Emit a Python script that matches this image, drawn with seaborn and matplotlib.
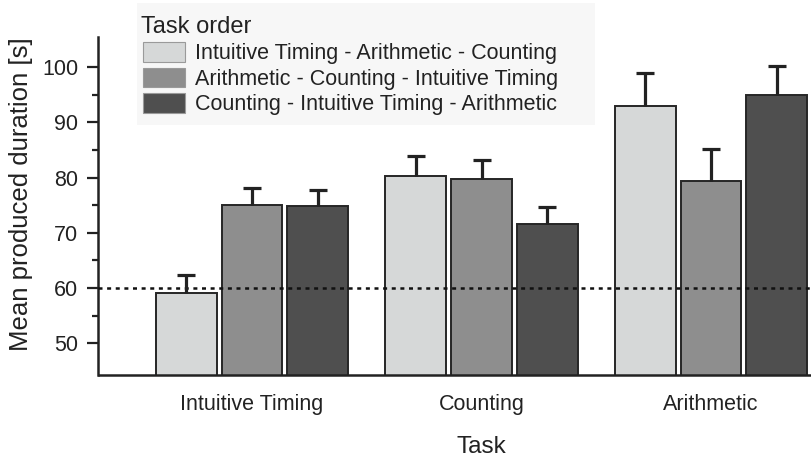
import matplotlib
matplotlib.use("Agg")
import matplotlib.pyplot as plt
from matplotlib.patches import Patch, Rectangle
from matplotlib.ticker import FixedLocator
from matplotlib.transforms import blended_transform_factory
import pandas as pd
import seaborn as sns

# ---- data ----
tasks = ["Intuitive Timing", "Counting", "Arithmetic"]
orders = ["Intuitive Timing - Arithmetic - Counting",
          "Arithmetic - Counting - Intuitive Timing",
          "Counting - Intuitive Timing - Arithmetic"]
means_order1 = [59.1, 80.2, 93.0]
means_order2 = [75.0, 79.7, 79.4]
means_order3 = [74.9, 71.6, 95.0]
err_order1 = [3.2, 3.6, 5.9]
err_order2 = [3.1, 3.5, 5.7]
err_order3 = [2.9, 3.1, 5.2]
y_ticks = [50, 60, 70, 80, 90, 100]
reference_line = 60
colors = ["#d6d8d8", "#8e8e8e", "#4f4f4f"]

means = [means_order1, means_order2, means_order3]
errs = [err_order1, err_order2, err_order3]
df = pd.DataFrame({
    "Task": [t for o in orders for t in tasks],
    "Order": [o for o in orders for t in tasks],
    "Mean": [v for m in means for v in m],
})

sns.set_style("white")
plt.rcParams["font.family"] = ["Liberation Sans", "DejaVu Sans"]

W, H = 812, 461
fig = plt.figure(figsize=(W / 100, H / 100), dpi=100)

# legend background (behind the transparent axes)
fig.patches.append(Rectangle((137 / W, 1 - 125 / H), (595 - 137) / W, 122 / H,
                             transform=fig.transFigure, facecolor="#f7f7f7",
                             edgecolor="none", zorder=-1))

ax = fig.add_axes([98.5 / W, 1 - 375 / H, 1 - 98.5 / W, (375 - 37) / H])
ax.patch.set_visible(False)

sns.barplot(data=df, x="Task", y="Mean", hue="Order", hue_order=orders,
            order=tasks, palette=colors, width=0.859, gap=0.073,
            edgecolor="#262626", linewidth=1.4, errorbar=None,
            legend=False, ax=ax, zorder=2)

for cont, e in zip(ax.containers, errs):
    for bar, ev in zip(cont, e):
        xc = bar.get_x() + bar.get_width() / 2
        top = bar.get_height()
        _, caps, _ = ax.errorbar(xc, top, yerr=[[0], [ev]], fmt="none",
                                 ecolor="#222222", elinewidth=2.3, capsize=6.8,
                                 capthick=2.3, zorder=4)
        caps[0].set_visible(False)

ax.axhline(reference_line, color="#111111", linestyle=(0, (1.6, 1.85)),
           linewidth=1.8, zorder=3)

ax.set_xlim(-0.669, 2.44)
ax.set_ylim(44.3, 105.4)
ax.yaxis.set_major_locator(FixedLocator(y_ticks))
ax.yaxis.set_minor_locator(FixedLocator([55, 65, 75, 85, 95]))

for s in ["top", "right"]:
    ax.spines[s].set_visible(False)
for s in ["left", "bottom"]:
    ax.spines[s].set_linewidth(1.8)
    ax.spines[s].set_color("#222222")

ax.tick_params(axis="y", which="major", length=8, width=1.6, color="#222222",
               labelsize=15.5, pad=6.5, labelcolor="#222222", left=True)
ax.tick_params(axis="y", which="minor", length=4.5, width=1.6, color="#222222",
               left=True)
ax.tick_params(axis="x", length=0, labelsize=15.5, pad=14, labelcolor="#222222")

ax.set_xlabel("Task", fontsize=17.5, color="#222222")
ax.xaxis.set_label_coords(1.0, 1 - 436 / H,
                          transform=blended_transform_factory(ax.transData,
                                                              fig.transFigure))
ax.set_ylabel("Mean produced duration [s]", fontsize=18.5, color="#222222")
ax.yaxis.set_label_coords(33 / W, 1 - 194.5 / H, transform=fig.transFigure)

# legend title as its own text, entries as a legend
fig.text(141 / W, 1 - 33 / H, "Task order", fontsize=17, color="#222222",
         ha="left", va="baseline")
handles = [Patch(facecolor=c, edgecolor="#9a9a9a", linewidth=0.8) for c in colors]
leg = ax.legend(handles, orders, loc="upper left",
                bbox_to_anchor=(143 / W, 1 - 42 / H),
                bbox_transform=fig.transFigure, frameon=False,
                fontsize=15.5, borderpad=0, borderaxespad=0, handlelength=1.95,
                handleheight=1.02, handletextpad=0.47, labelspacing=0.16)
for t in leg.get_texts():
    t.set_color("#222222")
leg.set_zorder(6)

fig.savefig("out.png", dpi=100)
